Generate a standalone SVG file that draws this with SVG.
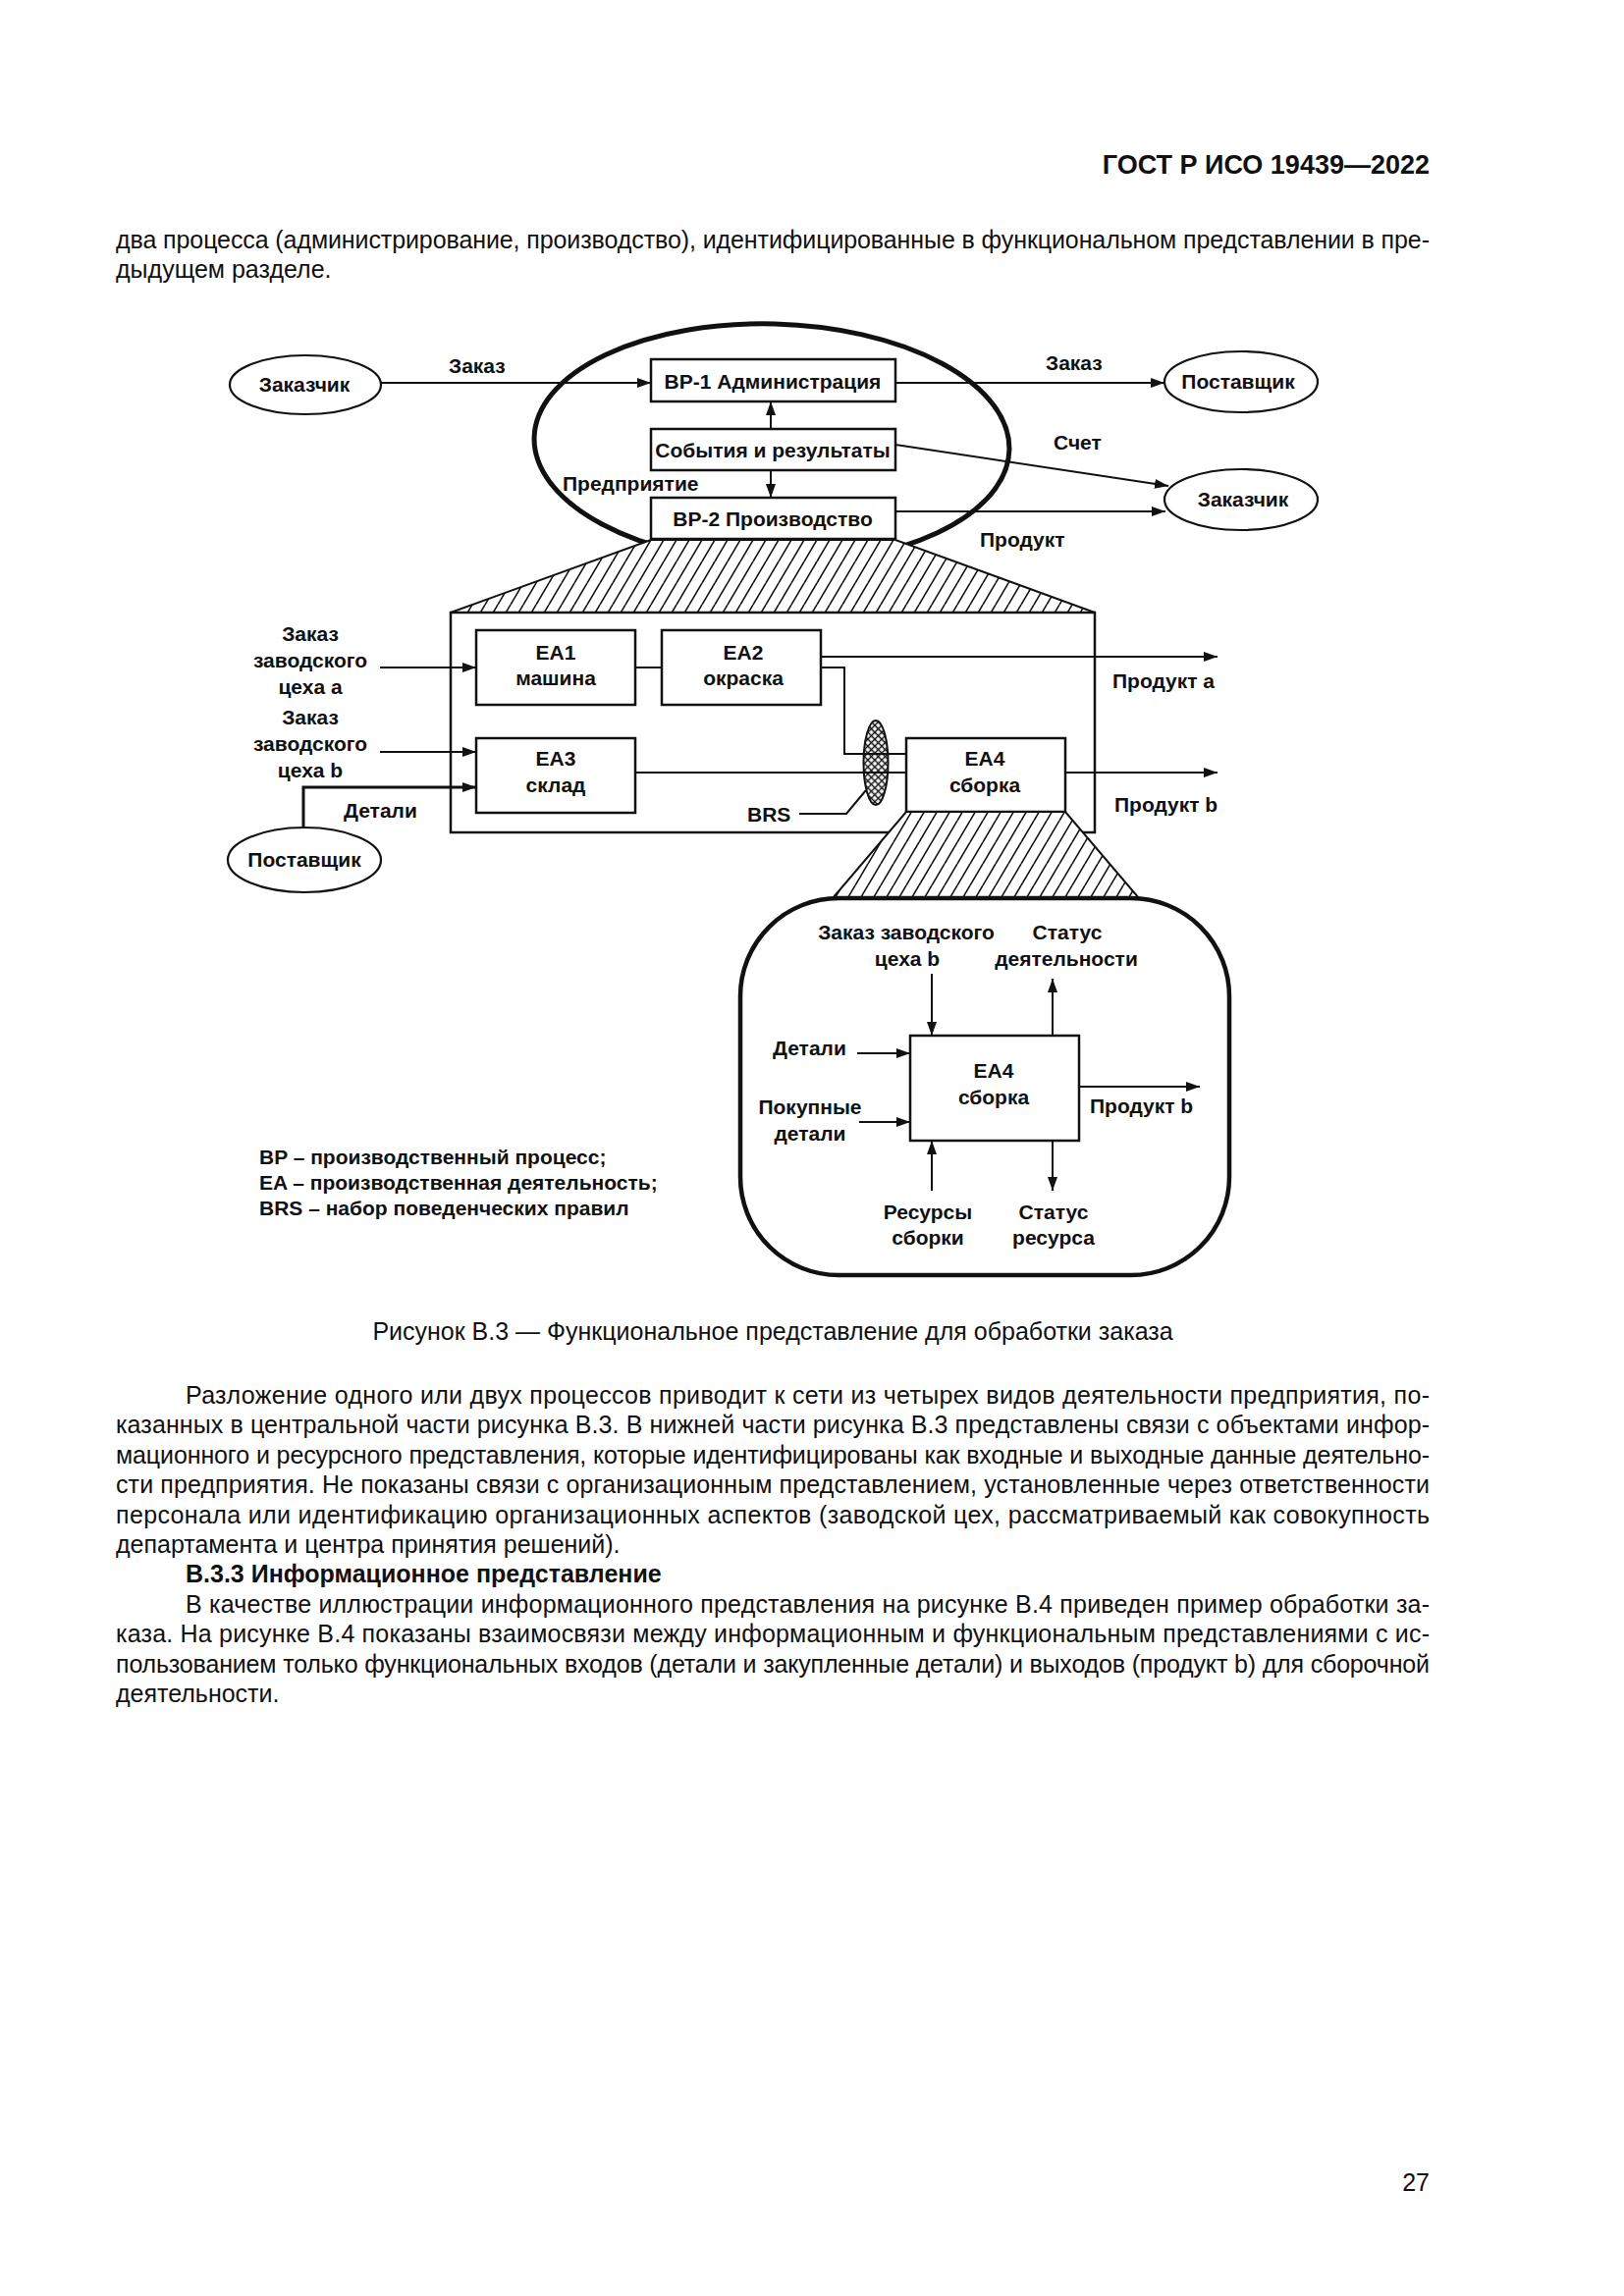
<svg xmlns="http://www.w3.org/2000/svg" width="1654" height="2339" viewBox="0 0 1654 2339">
<style>
.t{font-family:"Liberation Sans",Arial,sans-serif;font-weight:bold;font-size:21px;fill:#111}
.c{text-anchor:middle}
.b{font-family:"Liberation Sans",Arial,sans-serif;font-size:25px;fill:#111}
.hd{font-family:"Liberation Sans",Arial,sans-serif;font-size:27px;font-weight:bold;fill:#111}
.ln{stroke:#111;stroke-width:2;fill:none}
.ar{stroke:#111;stroke-width:2;fill:none;marker-end:url(#ah)}
.box{stroke:#111;stroke-width:2.5;fill:#fff}
.el{stroke:#111;stroke-width:2.2;fill:#fff}
</style>
<defs>
<marker id="ah" markerUnits="userSpaceOnUse" markerWidth="14" markerHeight="10" refX="14" refY="5" orient="auto">
<path d="M0,0 L14,5 L0,10 Z" fill="#111"/>
</marker>
<pattern id="hatch" patternUnits="userSpaceOnUse" width="13" height="22">
<rect width="13" height="22" fill="#fff"/>
<path d="M0,22 L13,0 M-13,22 L0,0 M13,22 L26,0" stroke="#111" stroke-width="1.6"/>
</pattern>
<pattern id="cross" patternUnits="userSpaceOnUse" width="5" height="5" patternTransform="rotate(45)">
<rect width="5" height="5" fill="#fff"/>
<path d="M0,2.5 H5 M2.5,0 V5" stroke="#111" stroke-width="1.4"/>
</pattern>
</defs>
<rect width="1654" height="2339" fill="#fff"/>

<!-- page text -->
<g id="page-header">
<text class="hd" x="1456" y="177" text-anchor="end">ГОСТ Р ИСО 19439—2022</text>
</g>
<g id="intro-text">
<text class="b" x="118" y="253" textLength="1338" lengthAdjust="spacing">два процесса (администрирование, производство), идентифицированные в функциональном представлении в пре-</text>
<text class="b" x="118" y="283">дыдущем разделе.</text>
</g>

<!-- enterprise ellipse and hatched trapezoid -->
<g id="enterprise">
<ellipse cx="786" cy="452" rx="242" ry="122" transform="rotate(1.5 786 452)" fill="none" stroke="#111" stroke-width="5"/>
<text class="t" x="573" y="500">Предприятие</text>
</g>
<g id="zoom-upper">
<polygon points="663,550 912,550 1115,624 459,624" fill="url(#hatch)" stroke="#111" stroke-width="2"/>
</g>

<g id="customer1">
<ellipse class="el" cx="311" cy="392" rx="77" ry="30"/>
<text class="t c" x="310" y="399">Заказчик</text>
</g>
<g id="bp1">
<rect class="box" x="663" y="366" width="249" height="43"/>
<text class="t c" x="787" y="396">BP-1 Администрация</text>
</g>
<g id="events">
<rect class="box" x="663" y="437" width="249" height="42"/>
<text class="t c" x="787" y="466">События и результаты</text>
</g>
<g id="bp2">
<rect class="box" x="663" y="507" width="249" height="42"/>
<text class="t c" x="787" y="536">BP-2 Производство</text>
</g>
<g id="supplier1">
<ellipse class="el" cx="1264" cy="389" rx="78" ry="31"/>
<text class="t c" x="1261" y="396">Поставщик</text>
</g>
<g id="customer2">
<ellipse class="el" cx="1264" cy="509" rx="78" ry="31"/>
<text class="t c" x="1266" y="516">Заказчик</text>
</g>

<!-- functional network -->
<g id="network">
<rect x="459" y="624" width="656" height="224" fill="none" stroke="#111" stroke-width="2.5"/>
</g>
<g id="ea1">
<rect class="box" x="485" y="642" width="162" height="76"/>
<text class="t c" x="566" y="672">EA1</text>
<text class="t c" x="566" y="698">машина</text>
</g>
<g id="ea2">
<rect class="box" x="674" y="642" width="162" height="76"/>
<text class="t c" x="757" y="672">EA2</text>
<text class="t c" x="757" y="698">окраска</text>
</g>
<g id="ea3">
<rect class="box" x="485" y="752" width="162" height="76"/>
<text class="t c" x="566" y="780">EA3</text>
<text class="t c" x="566" y="807">склад</text>
</g>
<g id="ea4">
<rect class="box" x="923" y="752" width="162" height="75"/>
<text class="t c" x="1003" y="780">EA4</text>
<text class="t c" x="1003" y="807">сборка</text>
</g>
<g id="brs">
<ellipse cx="892" cy="777" rx="12.5" ry="43" fill="url(#cross)" stroke="#111" stroke-width="2"/>
<text class="t" x="761" y="837">BRS</text>
</g>
<g id="supplier2">
<ellipse class="el" cx="310" cy="876" rx="78" ry="33"/>
<text class="t c" x="310" y="883">Поставщик</text>
</g>

<!-- zoom to EA4 -->
<g id="zoom-lower">
<polygon points="923,827 1085,827 1160,915 848,915" fill="url(#hatch)" stroke="#111" stroke-width="2"/>
</g>
<g id="ea4-detail">
<rect x="754" y="915" width="498" height="384" rx="100" ry="100" fill="none" stroke="#111" stroke-width="4.5"/>
<rect class="box" x="927" y="1055" width="172" height="107"/>
<text class="t c" x="1012" y="1098">EA4</text>
<text class="t c" x="1012" y="1125">сборка</text>
</g>

<!-- connectors -->
<g id="connectors">
<line class="ar" x1="388" y1="390" x2="663" y2="390"/>
<line class="ar" x1="912" y1="390" x2="1186" y2="390"/>
<line class="ar" x1="912" y1="453" x2="1190" y2="495"/>
<line class="ar" x1="912" y1="521" x2="1187" y2="521"/>
<line class="ar" x1="785" y1="437" x2="785" y2="409"/>
<line class="ar" x1="785" y1="479" x2="785" y2="507"/>
<line class="ar" x1="387" y1="680" x2="485" y2="680"/>
<line class="ar" x1="387" y1="766" x2="485" y2="766"/>
<polyline class="ar" points="309,843 309,802 485,802" style="stroke-width:3"/>
<line class="ln" x1="647" y1="680" x2="674" y2="680"/>
<line class="ar" x1="836" y1="669" x2="1240" y2="669"/>
<polyline class="ln" points="836,680 860,680 860,768 923,768"/>
<line class="ln" x1="647" y1="787" x2="923" y2="787"/>
<polyline class="ln" points="814,829 862,829 882,805"/>
<line class="ar" x1="1085" y1="787" x2="1240" y2="787"/>
<line class="ar" x1="949" y1="992" x2="949" y2="1055"/>
<line class="ar" x1="1072" y1="1055" x2="1072" y2="997"/>
<line class="ar" x1="873" y1="1073" x2="927" y2="1073"/>
<line class="ar" x1="875" y1="1143" x2="927" y2="1143"/>
<line class="ar" x1="1099" y1="1107" x2="1222" y2="1107"/>
<line class="ar" x1="949" y1="1213" x2="949" y2="1162"/>
<line class="ar" x1="1072" y1="1162" x2="1072" y2="1213"/>
</g>

<!-- connector labels -->
<g id="labels">
<text class="t" x="457" y="380">Заказ</text>
<text class="t" x="1065" y="377">Заказ</text>
<text class="t" x="1073" y="458">Счет</text>
<text class="t" x="998" y="557">Продукт</text>
<text class="t c" x="316" y="653">Заказ</text>
<text class="t c" x="316" y="680">заводского</text>
<text class="t c" x="316" y="707">цеха a</text>
<text class="t c" x="316" y="738">Заказ</text>
<text class="t c" x="316" y="765">заводского</text>
<text class="t c" x="316" y="792">цеха b</text>
<text class="t" x="350" y="833">Детали</text>
<text class="t" x="1133" y="701">Продукт a</text>
<text class="t" x="1135" y="827">Продукт b</text>
<text class="t c" x="923" y="957">Заказ заводского</text>
<text class="t c" x="924" y="984">цеха b</text>
<text class="t c" x="1087" y="957">Статус</text>
<text class="t c" x="1086" y="984">деятельности</text>
<text class="t" x="787" y="1075">Детали</text>
<text class="t c" x="825" y="1135">Покупные</text>
<text class="t c" x="825" y="1162">детали</text>
<text class="t" x="1110" y="1134">Продукт b</text>
<text class="t c" x="945" y="1242">Ресурсы</text>
<text class="t c" x="945" y="1268">сборки</text>
<text class="t c" x="1073" y="1242">Статус</text>
<text class="t c" x="1073" y="1268">ресурса</text>
</g>

<g id="legend">
<text class="t" x="264" y="1186">BP – производственный процесс;</text>
<text class="t" x="264" y="1212">EA – производственная деятельность;</text>
<text class="t" x="264" y="1238">BRS – набор поведенческих правил</text>
</g>

<g id="caption">
<text class="b" x="787" y="1365" text-anchor="middle">Рисунок В.3 — Функциональное представление для обработки заказа</text>
</g>

<g id="body-text">
<text class="b" x="189" y="1430" textLength="1267" lengthAdjust="spacing">Разложение одного или двух процессов приводит к сети из четырех видов деятельности предприятия, по-</text>
<text class="b" x="118" y="1460" textLength="1338" lengthAdjust="spacing">казанных в центральной части рисунка В.3. В нижней части рисунка В.3 представлены связи с объектами инфор-</text>
<text class="b" x="118" y="1491" textLength="1338" lengthAdjust="spacing">мационного и ресурсного представления, которые идентифицированы как входные и выходные данные деятельно-</text>
<text class="b" x="118" y="1521" textLength="1338" lengthAdjust="spacing">сти предприятия. Не показаны связи с организационным представлением, установленные через ответственности</text>
<text class="b" x="118" y="1552" textLength="1338" lengthAdjust="spacing">персонала или идентификацию организационных аспектов (заводской цех, рассматриваемый как совокупность</text>
<text class="b" x="118" y="1582">департамента и центра принятия решений).</text>
<text class="b" x="189" y="1612" font-weight="bold">В.3.3 Информационное представление</text>
<text class="b" x="189" y="1643" textLength="1267" lengthAdjust="spacing">В качестве иллюстрации информационного представления на рисунке В.4 приведен пример обработки за-</text>
<text class="b" x="118" y="1673" textLength="1338" lengthAdjust="spacing">каза. На рисунке В.4 показаны взаимосвязи между информационным и функциональным представлениями с ис-</text>
<text class="b" x="118" y="1704" textLength="1338" lengthAdjust="spacing">пользованием только функциональных входов (детали и закупленные детали) и выходов (продукт b) для сборочной</text>
<text class="b" x="118" y="1734">деятельности.</text>
</g>

<g id="page-number">
<text class="b" x="1456" y="2232" text-anchor="end">27</text>
</g>
</svg>
